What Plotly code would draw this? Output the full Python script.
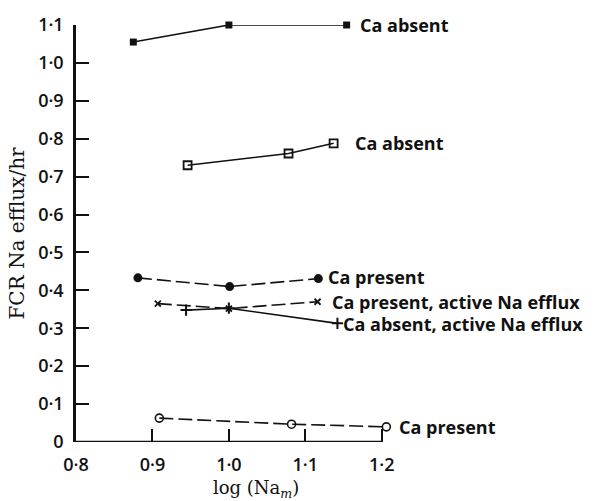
import plotly.graph_objects as go

# ---- data ----
s1_x = [0.875, 1.0, 1.154]
s1_y = [1.055, 1.100, 1.100]

s2_x = [0.946, 1.078, 1.137]
s2_y = [0.730, 0.761, 0.788]

s3_x = [0.881, 1.001, 1.117]
s3_y = [0.433, 0.410, 0.431]

s4_x = [0.907, 1.000, 1.116]
s4_y = [0.365, 0.352, 0.370]

s5_x = [0.944, 1.000, 1.142]
s5_y = [0.348, 0.353, 0.313]

s6_x = [0.909, 1.082, 1.206]
s6_y = [0.063, 0.047, 0.040]

x_tickvals = [0.8, 0.9, 1.0, 1.1, 1.2]
x_ticktext = ["0·8", "0·9", "1·0", "1·1", "1·2"]
y_tickvals = [0, 0.1, 0.2, 0.3, 0.4, 0.5, 0.6, 0.7, 0.8, 0.9, 1.0, 1.1]
y_ticktext = ["0", "0·1", "0·2", "0·3", "0·4", "0·5", "0·6", "0·7", "0·8", "0·9", "1·0", "1·1"]

labels = ["Ca absent", "Ca absent", "Ca present", "Ca present, active Na efflux",
          "Ca absent, active Na efflux", "Ca present"]
label_x = [1.170, 1.164, 1.128, 1.134, 1.148, 1.221]
label_y = [1.100, 0.788, 0.436, 0.370, 0.312, 0.039]

SANS = "Open Sans"
SERIF = "DejaVu Serif"
BLK = "#111111"

fig = go.Figure()

def add(x, y, symbol, size, dash, mline=1.5, mcolor=BLK):
    fig.add_trace(go.Scatter(
        x=x, y=y, mode="lines+markers", cliponaxis=False,
        line=dict(color=BLK, width=1.6, dash=dash),
        marker=dict(symbol=symbol, size=size, color=mcolor,
                    line=dict(color=BLK, width=mline)),
        showlegend=False, hoverinfo="skip"))

add(s1_x, s1_y, "square", 7, "solid", 0)
add(s2_x, s2_y, "square-open", 8, "solid", 1.8)
add(s3_x, s3_y, "circle", 9, "14px,5px", 0)
add(s4_x, s4_y, "x-thin", 6, "14px,5px", 1.8)
add(s5_x, s5_y, "cross-thin", 8, "solid", 2)
add(s6_x, s6_y, "circle-open", 8, "14px,5px", 1.6)

for t, lx, ly in zip(labels, label_x, label_y):
    fig.add_annotation(x=lx, y=ly, text=t, showarrow=False, xanchor="left",
                       yanchor="middle", borderpad=0,
                       font=dict(family=SANS, size=18, color=BLK, weight=700))

# x axis line only across the labelled range
fig.add_shape(type="line", xref="x", yref="y", x0=0.8, x1=1.2, y0=0, y1=0,
              line=dict(color=BLK, width=2.5), layer="above")

fig.add_annotation(xref="paper", yref="paper", x=-0.215, y=0.5,
                   text="FCR Na efflux/hr", textangle=-90, showarrow=False,
                   font=dict(family=SERIF, size=20, color=BLK))
fig.add_annotation(x=1.036, y=0, yref="y", yshift=-47,
                   text="log (Na<sub><i>m</i></sub>)", showarrow=False,
                   font=dict(family=SERIF, size=18, color=BLK))

fig.update_layout(
    width=605, height=501,
    margin=dict(l=76, r=185, t=23, b=59),
    plot_bgcolor="white", paper_bgcolor="white",
    xaxis=dict(range=[0.8, 1.25], showgrid=False, zeroline=False, showline=False,
               tickmode="array", tickvals=x_tickvals, ticktext=x_ticktext,
               ticks="inside", ticklen=13, tickwidth=2, tickcolor=BLK,
               ticklabelstandoff=10,
               tickfont=dict(family=SANS, size=18, color=BLK, weight=600)),
    yaxis=dict(range=[0, 1.1], showgrid=False, zeroline=False, showline=True,
               linecolor=BLK, linewidth=2.5,
               tickmode="array", tickvals=y_tickvals, ticktext=y_ticktext,
               ticks="inside", ticklen=13, tickwidth=2, tickcolor=BLK,
               ticklabelstandoff=6,
               tickfont=dict(family=SANS, size=18, color=BLK, weight=600)),
)

fig.write_html("out.html")
